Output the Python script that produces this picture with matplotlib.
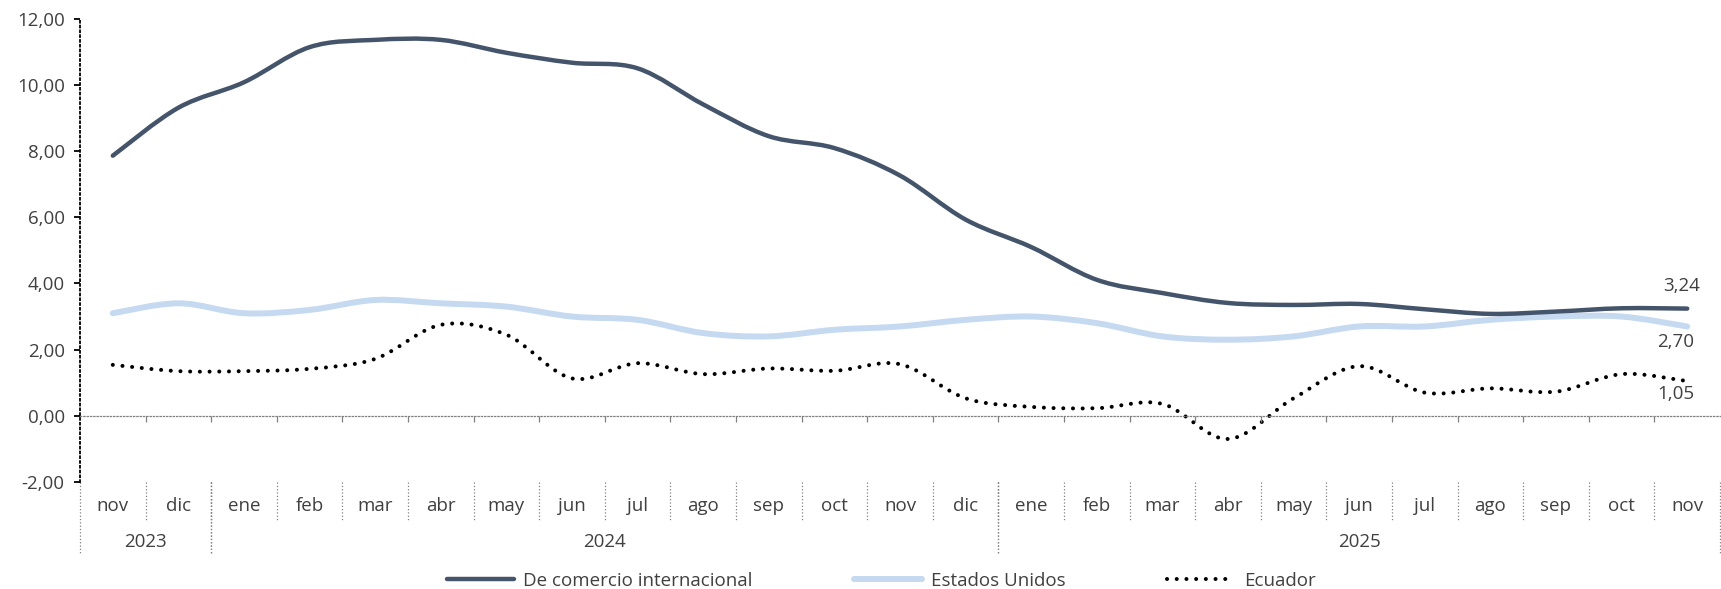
import numpy as np
import matplotlib
matplotlib.use("Agg")
import matplotlib.pyplot as plt
from matplotlib.path import Path
from matplotlib.patches import PathPatch
from matplotlib.lines import Line2D
from matplotlib.transforms import blended_transform_factory

plt.rcParams['font.family'] = ['Open Sans', 'DejaVu Sans']

months = ['nov', 'dic', 'ene', 'feb', 'mar', 'abr', 'may', 'jun', 'jul', 'ago', 'sep', 'oct',
          'nov', 'dic', 'ene', 'feb', 'mar', 'abr', 'may', 'jun', 'jul', 'ago', 'sep', 'oct', 'nov']
years = ['2023', '2024', '2025']
year_spans = [(0, 1), (2, 13), (14, 24)]

comercio = [7.86, 9.31, 10.08, 11.14, 11.36, 11.36, 10.97, 10.67, 10.50, 9.41, 8.45, 8.09, 7.26,
            5.93, 5.10, 4.11, 3.71, 3.41, 3.35, 3.38, 3.22, 3.08, 3.15, 3.25, 3.24]
eeuu = [3.10, 3.40, 3.10, 3.20, 3.50, 3.40, 3.30, 3.00, 2.90, 2.50, 2.40, 2.60, 2.70,
        2.90, 3.00, 2.80, 2.40, 2.30, 2.40, 2.70, 2.70, 2.90, 3.00, 3.00, 2.70]
ecuador = [1.54, 1.35, 1.35, 1.42, 1.72, 2.75, 2.45, 1.13, 1.59, 1.26, 1.43, 1.36, 1.56,
           0.53, 0.27, 0.23, 0.36, -0.70, 0.53, 1.50, 0.70, 0.83, 0.73, 1.26, 1.05]

dark = '#44546A'
light = '#C5D9F1'
txt = '#404040'
fs = 13.5


def smooth_path(x, y):
    # bezier curve through the points, like excel's smoothed line
    pts = np.column_stack([x, y])
    n = len(pts)
    verts = [pts[0]]
    codes = [Path.MOVETO]
    for i in range(n - 1):
        p0 = pts[max(i - 1, 0)]
        p1 = pts[i]
        p2 = pts[i + 1]
        p3 = pts[min(i + 2, n - 1)]
        verts += [p1 + (p2 - p0) / 6, p2 - (p3 - p1) / 6, p2]
        codes += [Path.CURVE4] * 3
    return Path(verts, codes)


def fmt(v):
    return f'{v:.2f}'.replace('.', ',')


fig = plt.figure(figsize=(17.21, 5.89), dpi=100)
ax = fig.add_axes([80 / 1721, 1 - 482 / 589, 1640 / 1721, 463.3 / 589])

x = np.arange(len(months))
ax.add_patch(PathPatch(smooth_path(x, eeuu), fill=False, edgecolor=light, lw=4.3,
                       capstyle='round', joinstyle='round'))
ax.add_patch(PathPatch(smooth_path(x, comercio), fill=False, edgecolor=dark, lw=3.2,
                       capstyle='round', joinstyle='round'))
ax.add_patch(PathPatch(smooth_path(x, ecuador), fill=False, edgecolor='black', lw=2.9,
                       linestyle=(0, (0.01, 2.4)), capstyle='round'))

ax.set_xlim(-0.5, len(months) - 0.5)
ax.set_ylim(-2, 12)
yt = np.arange(-2, 13, 2)
ax.set_yticks(yt)
ax.set_yticklabels([fmt(v) for v in yt])

for s in ['top', 'right']:
    ax.spines[s].set_visible(False)
ax.spines['left'].set_linestyle(':')
ax.spines['left'].set_linewidth(1.3)
ax.spines['left'].set_color('black')
ax.spines['bottom'].set_position(('data', 0))
ax.spines['bottom'].set_linestyle(':')
ax.spines['bottom'].set_linewidth(0.9)
ax.spines['bottom'].set_color('#808080')

ax.set_xticks(np.arange(-0.5, len(months), 1.0)[1:-1])
ax.set_xticklabels([])
ax.tick_params(axis='x', direction='out', length=4, width=0.9, color='#808080')
ax.tick_params(axis='y', direction='out', length=4, width=1.3, color='black',
               labelsize=fs, labelcolor=txt, pad=7)

# category labels under the plot
tr = blended_transform_factory(ax.transData, ax.transAxes)
for i, m in enumerate(months):
    ax.text(i, -0.052, m, transform=tr, ha='center', va='center', fontsize=fs, color=txt)
for k in range(1, len(months)):
    ax.plot([k - 0.5, k - 0.5], [0, -0.084], transform=tr, color='#808080', lw=0.9,
            ls=':', clip_on=False)
for yr, (a, b) in zip(years, year_spans):
    ax.text((a + b) / 2, -0.13, yr, transform=tr, ha='center', va='center',
            fontsize=fs, color=txt)
    for e in (a - 0.5, b + 0.5):
        ax.plot([e, e], [0, -0.155], transform=tr, color='#808080', lw=0.9,
                ls=':', clip_on=False)

# end labels
last = len(months) - 1
ax.annotate(fmt(comercio[-1]), (last, comercio[-1]), xytext=(-4, 16),
            textcoords='offset points', ha='center', va='center', fontsize=fs, color=txt)
ax.annotate(fmt(eeuu[-1]), (last, eeuu[-1]), xytext=(-8, -11),
            textcoords='offset points', ha='center', va='center', fontsize=fs, color=txt)
ax.annotate(fmt(ecuador[-1]), (last, ecuador[-1]), xytext=(-8, -9),
            textcoords='offset points', ha='center', va='center', fontsize=fs, color=txt)

handles = [Line2D([], [], color=dark, lw=3.2, solid_capstyle='round'),
           Line2D([], [], color=light, lw=4.3, solid_capstyle='round'),
           Line2D([], [], color='black', lw=2.9, ls=(0, (0.01, 2.4)), dash_capstyle='round')]
fig.legend(handles, ['De comercio internacional', 'Estados Unidos', 'Ecuador'],
           loc='center', bbox_to_anchor=(881 / 1721, 1 - 581 / 589), ncol=3,
           frameon=False, fontsize=fs, handlelength=3.6, columnspacing=5.4,
           handletextpad=0.5, labelcolor=txt)

fig.savefig('out.png', dpi=100)
